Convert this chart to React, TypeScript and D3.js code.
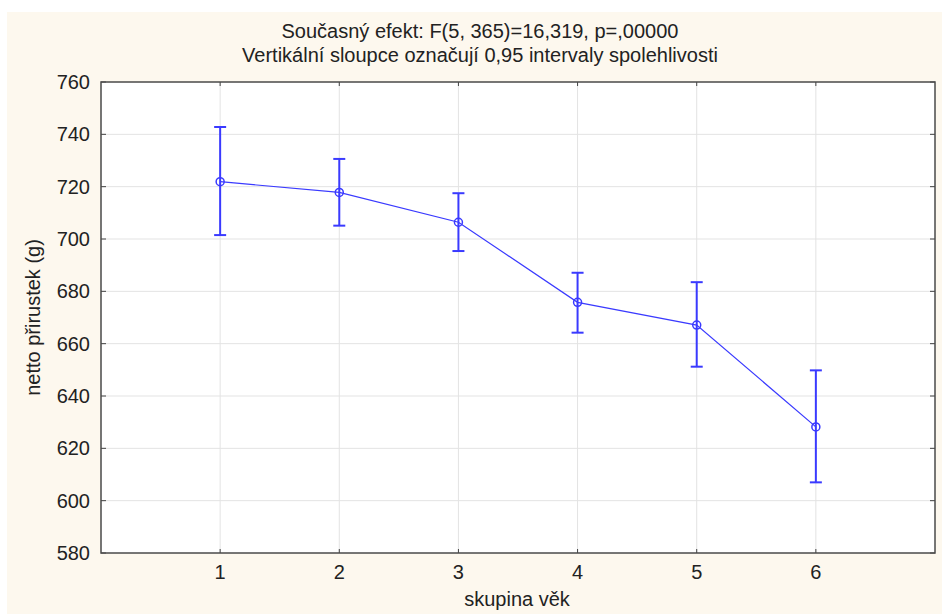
import React from "react";
import * as d3 from "d3";

const groups = [1, 2, 3, 4, 5, 6];
const means = [721.9, 717.8, 706.4, 675.8, 667.1, 628.2];
const upper = [742.8, 730.6, 717.5, 687.1, 683.5, 649.8];
const lower = [701.5, 705.1, 695.4, 664.2, 651.2, 607.0];
const yTicks = [580, 600, 620, 640, 660, 680, 700, 720, 740, 760];

const titleLines = [
  "Současný efekt: F(5, 365)=16,319, p=,00000",
  "Vertikální sloupce označují 0,95 intervaly spolehlivosti",
];

const W = 942;
const H = 615;
const margin = { left: 101, right: 7, top: 82, bottom: 62 };
const BLUE = "#3a3aff";

const App = () => {
  const svgRef = React.useRef<SVGSVGElement>(null);

  React.useEffect(() => {
    const x = d3.scaleLinear().domain([0, 7]).range([margin.left, W - margin.right]);
    const y = d3.scaleLinear().domain([580, 760]).range([H - margin.bottom, margin.top]);
    const data = groups.map((g, i) => ({ g, m: means[i], hi: upper[i], lo: lower[i] }));

    const svg = d3.select(svgRef.current);
    svg.selectAll("*").remove();

    // cream background panel
    svg.append("rect").attr("x", 7).attr("y", 12).attr("width", W - 7).attr("height", H - 12 - 1).attr("fill", "#fdf8ee");
    svg.append("rect")
      .attr("x", x(0)).attr("y", y(760))
      .attr("width", x(7) - x(0)).attr("height", y(580) - y(760))
      .attr("fill", "#fff");

    // grid
    svg.append("g").selectAll("line").data(yTicks.slice(1, -1)).enter().append("line")
      .attr("x1", x(0)).attr("x2", x(7)).attr("y1", d => y(d)).attr("y2", d => y(d))
      .attr("stroke", "#e3e3e3").attr("stroke-width", 1);
    svg.append("g").selectAll("line").data(groups).enter().append("line")
      .attr("x1", d => x(d)).attr("x2", d => x(d)).attr("y1", y(760)).attr("y2", y(580))
      .attr("stroke", "#e3e3e3").attr("stroke-width", 1);

    // inward ticks on all four sides
    const tk = svg.append("g").attr("stroke", "#444").attr("stroke-width", 1);
    yTicks.forEach(t => {
      tk.append("line").attr("x1", x(0)).attr("x2", x(0) + 5).attr("y1", y(t)).attr("y2", y(t));
      tk.append("line").attr("x1", x(7)).attr("x2", x(7) - 5).attr("y1", y(t)).attr("y2", y(t));
    });
    groups.forEach(g => {
      tk.append("line").attr("x1", x(g)).attr("x2", x(g)).attr("y1", y(580)).attr("y2", y(580) - 4);
      tk.append("line").attr("x1", x(g)).attr("x2", x(g)).attr("y1", y(760)).attr("y2", y(760) + 4);
    });

    // frame
    svg.append("rect")
      .attr("x", x(0)).attr("y", y(760))
      .attr("width", x(7) - x(0)).attr("height", y(580) - y(760))
      .attr("fill", "none").attr("stroke", "#4a4a4a").attr("stroke-width", 1.5);

    // tick labels
    svg.append("g").selectAll("text").data(yTicks).enter().append("text")
      .attr("x", x(0) - 11).attr("y", d => y(d)).attr("dy", "0.35em")
      .attr("text-anchor", "end").attr("font-size", 20).attr("fill", "#222")
      .text(d => d);
    svg.append("g").selectAll("text").data(groups).enter().append("text")
      .attr("x", d => x(d)).attr("y", 579)
      .attr("text-anchor", "middle").attr("font-size", 20).attr("fill", "#222")
      .text(d => d);

    // axis titles
    svg.append("text").attr("x", 517).attr("y", 606).attr("text-anchor", "middle")
      .attr("font-size", 20).attr("fill", "#222").text("skupina věk");
    svg.append("text")
      .attr("transform", `translate(40, ${(y(580) + y(760)) / 2}) rotate(-90)`)
      .attr("text-anchor", "middle").attr("font-size", 20).attr("fill", "#222")
      .text("netto přirustek (g)");

    // title
    svg.append("g").selectAll("text").data(titleLines).enter().append("text")
      .attr("x", 480).attr("y", (d, i) => 38 + i * 24)
      .attr("text-anchor", "middle").attr("font-size", 20).attr("fill", "#222")
      .text(d => d);

    // connecting line
    const line = d3.line<typeof data[0]>().x(d => x(d.g)).y(d => y(d.m));
    svg.append("path").datum(data).attr("d", line)
      .attr("fill", "none").attr("stroke", BLUE).attr("stroke-width", 1.2);

    // error bars
    const eb = svg.append("g").attr("stroke", BLUE).attr("stroke-width", 2);
    data.forEach(d => {
      eb.append("line").attr("x1", x(d.g)).attr("x2", x(d.g)).attr("y1", y(d.hi)).attr("y2", y(d.lo));
      eb.append("line").attr("x1", x(d.g) - 6).attr("x2", x(d.g) + 6).attr("y1", y(d.hi)).attr("y2", y(d.hi));
      eb.append("line").attr("x1", x(d.g) - 6).attr("x2", x(d.g) + 6).attr("y1", y(d.lo)).attr("y2", y(d.lo));
    });

    // markers
    svg.append("g").selectAll("circle").data(data).enter().append("circle")
      .attr("cx", d => x(d.g)).attr("cy", d => y(d.m)).attr("r", 4)
      .attr("fill", "none").attr("stroke", BLUE).attr("stroke-width", 1.5);
  }, []);

  return (
    <svg
      ref={svgRef}
      width={W}
      height={H}
      style={{ position: "absolute", left: 0, top: 0, background: "#fff", fontFamily: "'Liberation Sans', Arial, sans-serif" }}
    />
  );
};

export default App;
